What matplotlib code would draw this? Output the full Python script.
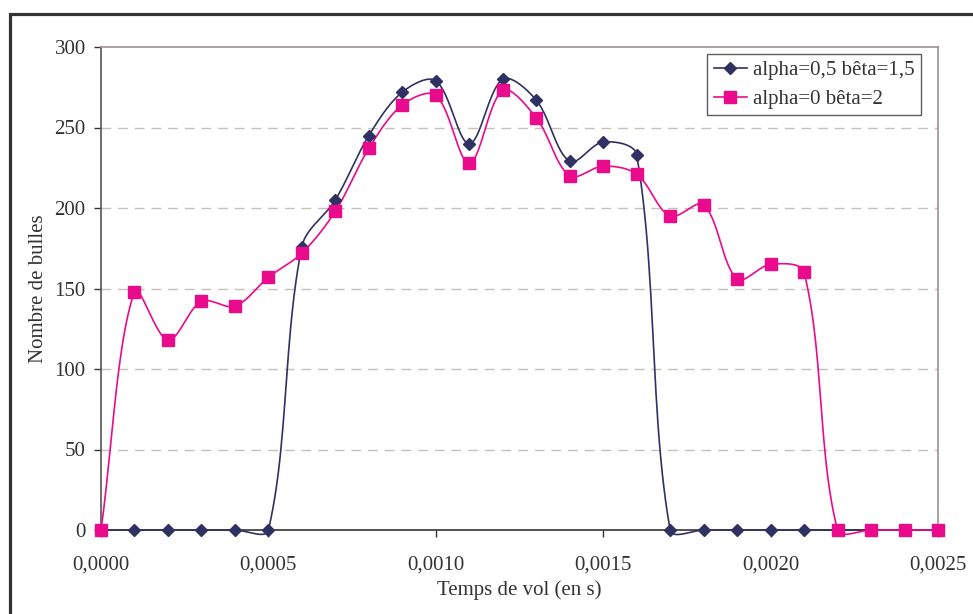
import numpy as np
import matplotlib.pyplot as plt
from matplotlib.patches import Rectangle
from matplotlib.lines import Line2D
from matplotlib.ticker import FuncFormatter

plt.rcParams['font.family'] = ['Liberation Serif', 'DejaVu Serif']

# temps de vol (s)
temps = [i * 0.0001 for i in range(26)]

# alpha=0,5 beta=1,5
bulles_a = [0, 0, 0, 0, 0, 0, 176, 205, 245, 272, 279, 240, 280, 267, 229, 241, 233,
            0, 0, 0, 0, 0, 0, 0, 0, 0]
# alpha=0 beta=2
bulles_b = [0, 148, 118, 142, 139, 157, 172, 198, 237, 264, 270, 228, 273, 256, 220, 226, 221,
            195, 202, 156, 165, 160, 0, 0, 0, 0]

label_a = "alpha=0,5 bêta=1,5"
label_b = "alpha=0 bêta=2"
col_a = "#2f3163"
col_b = "#ea0a8c"

# echelle ecran (px par unite) pour le lissage
kx = 837 / 0.0025
ky = 483 / 300.0


def smooth(x, y, n=24):
    # lissage facon Excel : bezier, tangentes ponderees par les distances ecran
    p = np.column_stack([np.asarray(x, float) * kx, np.asarray(y, float) * ky])
    pts = []
    for i in range(len(p) - 1):
        p0 = p[i - 1] if i > 0 else p[i]
        p1 = p[i]
        p2 = p[i + 1]
        p3 = p[i + 2] if i + 2 < len(p) else p[i + 1]
        d01 = np.hypot(*(p1 - p0))
        d12 = np.hypot(*(p2 - p1))
        d23 = np.hypot(*(p3 - p2))
        c1 = p1 + (p2 - p0) * (d12 / (d01 + d12) / 3 if d01 + d12 > 0 else 0)
        c2 = p2 - (p3 - p1) * (d12 / (d12 + d23) / 3 if d12 + d23 > 0 else 0)
        t = np.linspace(0, 1, n, endpoint=False)[:, None]
        b = (1 - t) ** 3 * p1 + 3 * (1 - t) ** 2 * t * c1 + 3 * (1 - t) * t ** 2 * c2 + t ** 3 * p2
        pts.append(b)
    pts.append(p[-1:])
    pts = np.vstack(pts)
    return pts[:, 0] / kx, pts[:, 1] / ky


fig = plt.figure(figsize=(9.73, 6.14), dpi=100)
ax = fig.add_axes([101 / 973, 1 - 530 / 614, (938 - 101) / 973, (530 - 47) / 614])

sx, sy = smooth(temps, bulles_a)
ax.plot(sx, sy, color=col_a, lw=1.2, clip_on=False, zorder=3)
ax.plot(temps, bulles_a, ls="none", marker="D", ms=6.2, color=col_a, clip_on=False, zorder=4)
sx, sy = smooth(temps, bulles_b)
ax.plot(sx, sy, color=col_b, lw=1.2, clip_on=False, zorder=3)
ax.plot(temps, bulles_b, ls="none", marker="s", ms=8.5, color=col_b, clip_on=False, zorder=4)

ax.set_xlim(0, 0.0025)
ax.set_ylim(0, 300)
ax.set_xticks([0, 0.0005, 0.0010, 0.0015, 0.0020, 0.0025])
ax.set_yticks(range(0, 301, 50))
ax.xaxis.set_major_formatter(FuncFormatter(lambda v, p: ("%.4f" % v).replace(".", ",")))
ax.tick_params(axis="both", direction="out", length=5, width=1, color="#333333",
               labelsize=15, labelcolor="#333333")
ax.tick_params(axis="x", pad=13.5)
ax.tick_params(axis="y", pad=6)
for y in range(50, 300, 50):
    ax.axhline(y, color="#c8c0b8", lw=1, ls=(0, (7, 5)), zorder=1)

ax.spines["left"].set_color("#555555")
ax.spines["bottom"].set_color("#333333")
ax.spines["top"].set_color("#a09090")
ax.spines["right"].set_color("#a09090")
for s in ax.spines.values():
    s.set_linewidth(1.2)

ax.set_xlabel("Temps de vol (en s)", fontsize=15, color="#333333", labelpad=4)
ax.set_ylabel("Nombre de bulles", fontsize=15, color="#333333", labelpad=5)

h = [Line2D([], [], color=col_a, marker="D", ms=6, lw=1.2),
     Line2D([], [], color=col_b, marker="s", ms=8, lw=1.2)]
leg = ax.legend(h, [label_a, label_b], loc="upper right", bbox_to_anchor=(921 / 973, 1 - 54 / 614),
                bbox_transform=fig.transFigure, fontsize=15, frameon=True, fancybox=False,
                edgecolor="#333333", borderaxespad=0, handlelength=1.6, handletextpad=0.3,
                labelspacing=0.45, borderpad=0.3)
leg.get_frame().set_linewidth(1)
for t in leg.get_texts():
    t.set_color("#333333")

# cadre exterieur
fig.patches.append(Rectangle((10 / 973, -0.1), 1.2, 1 - 14 / 614 + 0.1, transform=fig.transFigure,
                             fill=False, edgecolor="#333333", lw=2.3))

fig.savefig("out.png", dpi=100)
